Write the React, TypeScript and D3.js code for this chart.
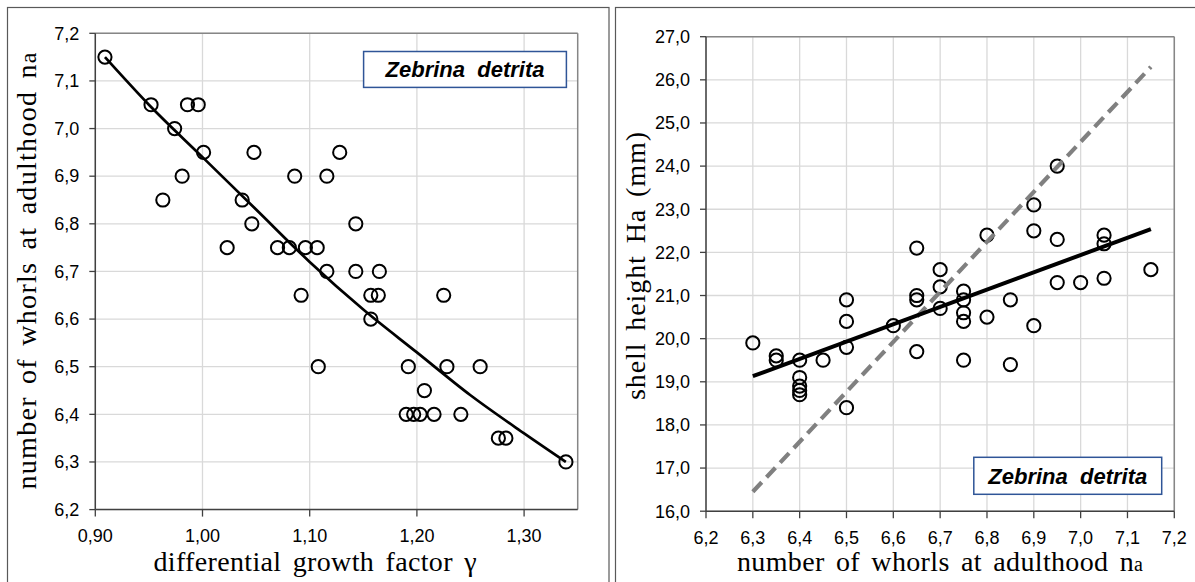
import React from "react";
import * as d3 from "d3";

// ---------- Left chart data ----------
const gammaValues = [
  0.909, 0.952, 0.986, 0.996, 0.974, 1.001, 1.048, 1.128, 0.981, 1.086, 1.116,
  0.963, 1.037, 1.046, 1.143, 1.023, 1.07, 1.081, 1.096, 1.107, 1.116, 1.143,
  1.165, 1.092, 1.157, 1.164, 1.225, 1.157, 1.108, 1.192, 1.228, 1.259, 1.207,
  1.19, 1.197, 1.203, 1.216, 1.241, 1.276, 1.283, 1.339,
];
const whorlsLeft = [
  7.15, 7.05, 7.05, 7.05, 7.0, 6.95, 6.95, 6.95, 6.9, 6.9, 6.9, 6.85, 6.85, 6.8,
  6.8, 6.75, 6.75, 6.75, 6.75, 6.75, 6.7, 6.7, 6.7, 6.65, 6.65, 6.65, 6.65, 6.6,
  6.5, 6.5, 6.5, 6.5, 6.45, 6.4, 6.4, 6.4, 6.4, 6.4, 6.35, 6.35, 6.3,
];
const leftTrendX = [0.909, 0.95, 1.0, 1.05, 1.1, 1.15, 1.2, 1.25, 1.3, 1.339];
const leftTrendY = [7.15, 7.05, 6.94, 6.83, 6.72, 6.62, 6.53, 6.44, 6.36, 6.3];
const leftXTicks = [0.9, 1.0, 1.1, 1.2, 1.3];
const leftYTicks = [6.2, 6.3, 6.4, 6.5, 6.6, 6.7, 6.8, 6.9, 7.0, 7.1, 7.2];

// ---------- Right chart data ----------
const whorlsRight = [
  6.3, 6.35, 6.35, 6.4, 6.4, 6.4, 6.4, 6.4, 6.45, 6.5, 6.5, 6.5, 6.5, 6.6, 6.65,
  6.65, 6.65, 6.65, 6.7, 6.7, 6.7, 6.75, 6.75, 6.75, 6.75, 6.75, 6.8, 6.8, 6.85,
  6.85, 6.9, 6.9, 6.9, 6.95, 6.95, 6.95, 7.0, 7.05, 7.05, 7.05, 7.15,
];
const heightValues = [
  19.9, 19.6, 19.5, 19.5, 19.1, 18.9, 18.8, 18.7, 19.5, 20.9, 20.4, 19.8, 18.4,
  20.3, 22.1, 21.0, 20.9, 19.7, 21.6, 21.2, 20.7, 21.1, 20.9, 20.6, 20.4, 19.5,
  22.4, 20.5, 20.9, 19.4, 23.1, 22.5, 20.3, 24.0, 22.3, 21.3, 21.3, 22.4, 22.2,
  21.4, 21.6,
];
const rightTrendX = [6.3, 7.15];
const rightTrendY = [19.13, 22.54];
const rightDashX = [6.3, 7.15];
const rightDashY = [16.45, 26.3];
const rightXTicks = [6.2, 6.3, 6.4, 6.5, 6.6, 6.7, 6.8, 6.9, 7.0, 7.1, 7.2];
const rightYTicks = [16, 17, 18, 19, 20, 21, 22, 23, 24, 25, 26, 27];

const legendText = "Zebrina\u00a0\u00a0detrita";

const SANS = "'Liberation Sans', Arial, sans-serif";
const SERIF = "'Liberation Serif', 'Times New Roman', serif";

const fmt = (digits: number) => (v: number) => v.toFixed(digits).replace(".", ",");

type Box = { x0: number; x1: number; y0: number; y1: number };

function Axes({
  box, x, y, xTicks, yTicks, xFmt, yFmt,
}: {
  box: Box; x: d3.ScaleLinear<number, number>; y: d3.ScaleLinear<number, number>;
  xTicks: number[]; yTicks: number[]; xFmt: (v: number) => string; yFmt: (v: number) => string;
}) {
  return (
    <g>
      {xTicks.map((t) => (
        <line key={"gx" + t} x1={x(t)} x2={x(t)} y1={box.y0} y2={box.y1} stroke="#d9d9d9" strokeWidth={1.3} />
      ))}
      {yTicks.map((t) => (
        <line key={"gy" + t} x1={box.x0} x2={box.x1} y1={y(t)} y2={y(t)} stroke="#d9d9d9" strokeWidth={1.3} />
      ))}
      {/* top and right frame */}
      <line x1={box.x0} x2={box.x1} y1={box.y0} y2={box.y0} stroke="#868686" strokeWidth={1.5} />
      <line x1={box.x1} x2={box.x1} y1={box.y0} y2={box.y1} stroke="#868686" strokeWidth={1.5} />
      {/* axes */}
      <line x1={box.x0} x2={box.x0} y1={box.y0} y2={box.y1} stroke="#404040" strokeWidth={1.5} />
      <line x1={box.x0} x2={box.x1} y1={box.y1} y2={box.y1} stroke="#404040" strokeWidth={1.5} />
      {yTicks.map((t) => (
        <g key={"ty" + t}>
          <line x1={box.x0 - 6} x2={box.x0} y1={y(t)} y2={y(t)} stroke="#404040" strokeWidth={1.3} />
          <text x={box.x0 - 16} y={y(t)} dy="0.35em" textAnchor="end" fontFamily={SANS} fontSize={18} fill="#000">
            {yFmt(t)}
          </text>
        </g>
      ))}
      {xTicks.map((t) => (
        <g key={"tx" + t}>
          <line x1={x(t)} x2={x(t)} y1={box.y1} y2={box.y1 + 7} stroke="#404040" strokeWidth={1.3} />
          <text x={x(t)} y={box.y1 + 26} dy="0.35em" textAnchor="middle" fontFamily={SANS} fontSize={18} fill="#000">
            {xFmt(t)}
          </text>
        </g>
      ))}
    </g>
  );
}

function Circles({ xs, ys, x, y }: { xs: number[]; ys: number[]; x: any; y: any }) {
  return (
    <g>
      {xs.map((v, i) => (
        <circle key={i} cx={x(v)} cy={y(ys[i])} r={6.6} fill="none" stroke="#000" strokeWidth={2} />
      ))}
    </g>
  );
}

function Legend({ x0, y0, x1, y1 }: { x0: number; y0: number; x1: number; y1: number }) {
  return (
    <g>
      <rect x={x0} y={y0} width={x1 - x0} height={y1 - y0} fill="#fff" stroke="#2f5597" strokeWidth={1.5} />
      <text
        x={(x0 + x1) / 2}
        y={(y0 + y1) / 2}
        dy="0.36em"
        textAnchor="middle"
        fontFamily={SANS}
        fontWeight="bold"
        fontStyle="italic"
        fontSize={22}
        fill="#000"
      >
        {legendText}
      </text>
    </g>
  );
}

export default function App() {
  const W = 1195;
  const H = 582;

  // Left chart
  const lb: Box = { x0: 95.3, x1: 577.7, y0: 33.3, y1: 509.6 };
  const lx = d3.scaleLinear().domain([0.9, 1.35]).range([lb.x0, lb.x1]);
  const ly = d3.scaleLinear().domain([6.2, 7.2]).range([lb.y1, lb.y0]);
  const leftLine = d3
    .line<number>()
    .x((d) => lx(d))
    .y((_, i) => ly(leftTrendY[i]))
    .curve(d3.curveMonotoneX);

  // Right chart
  const rb: Box = { x0: 706, x1: 1174.3, y0: 36.7, y1: 511.2 };
  const rx = d3.scaleLinear().domain([6.2, 7.2]).range([rb.x0, rb.x1]);
  const ry = d3.scaleLinear().domain([16, 27]).range([rb.y1, rb.y0]);
  const straight = (xs: number[], ys: number[]) =>
    d3
      .line<number>()
      .x((d) => rx(d))
      .y((_, i) => ry(ys[i]))(xs) || "";

  return (
    <svg
      width={W}
      height={H}
      viewBox={`0 0 ${W} ${H}`}
      style={{ position: "absolute", left: 0, top: 0, background: "#fff" }}
    >
      <rect x={0} y={0} width={W} height={H} fill="#fff" />
      {/* panel frames */}
      <rect x={7.5} y={7.5} width={601.5} height={H + 20} fill="none" stroke="#595959" strokeWidth={1.2} />
      <rect x={615.5} y={7.5} width={H + 600} height={H + 20} fill="none" stroke="#595959" strokeWidth={1.2} />

      {/* ---------- Left chart ---------- */}
      <Axes box={lb} x={lx} y={ly} xTicks={leftXTicks} yTicks={leftYTicks} xFmt={fmt(2)} yFmt={fmt(1)} />
      <Circles xs={gammaValues} ys={whorlsLeft} x={lx} y={ly} />
      <path d={leftLine(leftTrendX) || ""} fill="none" stroke="#000" strokeWidth={2.7} />
      <Legend x0={363.6} y0={51.5} x1={566.4} y1={87.4} />
      <text
        x={315}
        y={571}
        textAnchor="middle"
        fontFamily={SERIF}
        fontSize={28}
        wordSpacing={4}
        textLength={323}
        lengthAdjust="spacing"
        fill="#000"
      >
        differential growth factor γ
      </text>
      <text
        transform={`translate(36,271) rotate(-90)`}
        textAnchor="middle"
        fontFamily={SERIF}
        fontSize={28}
        wordSpacing={4}
        textLength={437}
        lengthAdjust="spacing"
        fill="#000"
      >
        number of whorls at adulthood n<tspan fontSize={24}>a</tspan>
      </text>

      {/* ---------- Right chart ---------- */}
      <Axes box={rb} x={rx} y={ry} xTicks={rightXTicks} yTicks={rightYTicks} xFmt={fmt(1)} yFmt={fmt(1)} />
      <Circles xs={whorlsRight} ys={heightValues} x={rx} y={ry} />
      <path d={straight(rightDashX, rightDashY)} fill="none" stroke="#808080" strokeWidth={4.2} strokeDasharray="13 7" />
      <path d={straight(rightTrendX, rightTrendY)} fill="none" stroke="#000" strokeWidth={4} />
      <Legend x0={973.8} y0={457.3} x1={1161.7} y1={494.3} />
      <text
        x={940}
        y={571}
        textAnchor="middle"
        fontFamily={SERIF}
        fontSize={28}
        wordSpacing={4}
        textLength={406}
        lengthAdjust="spacing"
        fill="#000"
      >
        number of whorls at adulthood  n<tspan fontSize={20}>a</tspan>
      </text>
      <text
        transform={`translate(645,266) rotate(-90)`}
        textAnchor="middle"
        fontFamily={SERIF}
        fontSize={28}
        wordSpacing={4}
        textLength={268}
        lengthAdjust="spacing"
        fill="#000"
      >
        shell height Ha (mm)
      </text>
    </svg>
  );
}
